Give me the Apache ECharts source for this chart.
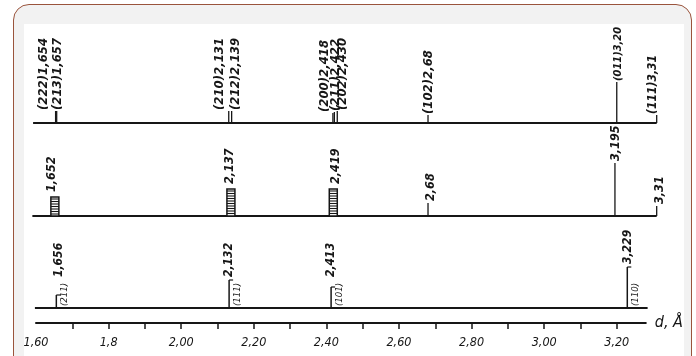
<!DOCTYPE html>
<html lang="ru">
<head>
<meta charset="UTF-8">
<title>d, Å</title>
<script src="https://cdn.jsdelivr.net/npm/echarts@6.0.0/dist/echarts.min.js"></script>
<style>
    html, body { margin: 0; padding: 0; background: #fff; overflow: hidden; }
    .frame {
        position: absolute; left: 13px; top: 4px;
        width: 677px; height: 420px;
        border: 1.5px solid #9a543c; border-radius: 16px;
        background: #f2f2f2;
    }
    .paper { position: absolute; left: 24px; top: 24px; width: 660px; height: 340px; background: #fff; }
    #chart { position: absolute; left: 0; top: 0; width: 696px; height: 356px; }
</style>
</head>
<body>
<div class="frame"></div>
<div class="paper"></div>
<div id="chart"></div>
<script>
// ряд 1: линии с индексами (hkl) d
var row1D = [1.654, 1.657, 2.131, 2.139, 2.418, 2.422, 2.430, 2.68, 3.20, 3.31];
var row1H = [12, 12, 12, 12, 10, 11, 12, 8, 41, 8];
var row1Text = ['(222)1,654', '(213)1,657', '(210)2,131', '(212)2,139', '(200)2,418',
                '(211)2,422', '(202)2,430', '(102)2,68', '(011)3,20', '(111)3,31'];

// ряд 2: сильные линии (заштрихованы) и слабые
var row2BarD = [1.652, 2.137, 2.419];
var row2BarH = [19, 27, 27];
var row2BarText = ['1,652', '2,137', '2,419'];
var row2LineD = [2.68, 3.195, 3.31];
var row2LineH = [13, 53, 10];
var row2LineText = ['2,68', '3,195', '3,31'];

// ряд 3
var row3D = [1.656, 2.132, 2.413, 3.229];
var row3H = [13, 28, 21, 41];
var row3Text = ['1,656', '2,132', '2,413', '3,229'];
var row3Hkl = ['(211)', '(111)', '(101)', '(110)'];

// концы базовых линий рядов
var rowStart = [1.592, 1.59, 1.597];
var rowEnd = [3.31, 3.31, 3.285];

// шкала d
var tickValues = [1.7, 1.8, 1.9, 2.0, 2.1, 2.2, 2.3, 2.4, 2.5, 2.6, 2.7, 2.8, 2.9, 3.0, 3.1, 3.2];
var labelValues = [1.6, 1.8, 2.0, 2.2, 2.4, 2.6, 2.8, 3.0, 3.2];
var labelText = ['1,60', '1,8', '2,00', '2,20', '2,40', '2,60', '2,80', '3,00', '3,20'];

// раскладка (не данные)
var rowBase = [200, 107, 15];
var dx1 = [-12, 1, -9, 4, -8, 1, 5, 1, 1, -4];
var size1 = [13, 13, 13, 13, 13, 13, 13, 13, 11, 12];
var dx2bar = [-3, -1, 2];
var dx2line = [3, 1, 3];
var dx3 = [3, 0, 0, 1];
var ink = '#161616';
var fam = '"DejaVu Sans Condensed", "DejaVu Sans", sans-serif';

function vtext(x, y, text, size, weight) {
    return {
        type: 'text', x: x, y: y, rotation: Math.PI / 2,
        style: { text: text, align: 'left', verticalAlign: 'middle',
                 font: 'italic ' + (weight || 'bold') + ' ' + size + 'px ' + fam, fill: ink }
    };
}
function seg(a, b, w) {
    return { type: 'line', shape: { x1: a[0], y1: a[1], x2: b[0], y2: b[1] },
             style: { stroke: ink, lineWidth: w || 1.3 } };
}

var chart = echarts.init(document.getElementById('chart'));

var series = [];
// базовые линии рядов
series.push({
    type: 'custom', clip: false, silent: true,
    data: rowStart.map(function (s, r) { return [s, rowEnd[r], r]; }),
    renderItem: function (params, api) {
        var r = api.value(2);
        return seg(api.coord([api.value(0), rowBase[r]]), api.coord([api.value(1), rowBase[r]]), 2.2);
    }
});

// ряд 1
series.push({
    type: 'custom', clip: false, silent: true,
    data: row1D.map(function (d, i) { return [d, row1H[i], i]; }),
    renderItem: function (params, api) {
        var i = api.value(2), d = api.value(0);
        var p0 = api.coord([d, rowBase[0]]);
        var p1 = api.coord([d, rowBase[0] + api.value(1)]);
        return { type: 'group', children: [
            seg(p0, p1, 1.3),
            vtext(p1[0] + dx1[i], p1[1] - 1, row1Text[i], size1[i])
        ] };
    }
});

// ряд 2, заштрихованные полосы
series.push({
    type: 'custom', clip: false, silent: true,
    data: row2BarD.map(function (d, i) { return [d, row2BarH[i], i]; }),
    renderItem: function (params, api) {
        var i = api.value(2), d = api.value(0);
        var p0 = api.coord([d, rowBase[1]]);
        var p1 = api.coord([d, rowBase[1] + api.value(1)]);
        var w = 8, x = p0[0] - w / 2;
        var kids = [{ type: 'rect', shape: { x: x, y: p1[1], width: w, height: p0[1] - p1[1] },
                      style: { fill: '#fff', stroke: ink, lineWidth: 1.5 } }];
        for (var y = p1[1] + 2; y < p0[1] - 1; y += 2.5) {
            kids.push(seg([x, y], [x + w, y], 1.1));
        }
        kids.push(vtext(p0[0] + dx2bar[i], p1[1] - 5, row2BarText[i], 12.5));
        return { type: 'group', children: kids };
    }
});

// ряд 2, тонкие линии
series.push({
    type: 'custom', clip: false, silent: true,
    data: row2LineD.map(function (d, i) { return [d, row2LineH[i], i]; }),
    renderItem: function (params, api) {
        var i = api.value(2), d = api.value(0);
        var p0 = api.coord([d, rowBase[1]]);
        var p1 = api.coord([d, rowBase[1] + api.value(1)]);
        return { type: 'group', children: [
            seg(p0, p1, 1.3),
            vtext(p1[0] + dx2line[i], p1[1] - 2, row2LineText[i], 12.5)
        ] };
    }
});

// ряд 3
series.push({
    type: 'custom', clip: false, silent: true,
    data: row3D.map(function (d, i) { return [d, row3H[i], i]; }),
    renderItem: function (params, api) {
        var i = api.value(2), d = api.value(0), h = api.value(1);
        var p0 = api.coord([d, rowBase[2]]);
        var p1 = api.coord([d, rowBase[2] + h]);
        var pl = api.coord([d, rowBase[2] + Math.max(h + 3, 31)]);
        return { type: 'group', children: [
            seg(p0, p1, 1.5),
            seg(p1, [p1[0] + 4, p1[1]], 1.2),
            vtext(pl[0] + dx3[i], pl[1], row3Text[i], 12),
            vtext(p0[0] + 8, p0[1] - 2, row3Hkl[i], 9.5, 'normal')
        ] };
    }
});

chart.setOption({
    animation: false,
    backgroundColor: 'transparent',
    grid: { left: 36, right: 50.2, top: 23, bottom: 33, outerBoundsMode: 'none' },
    xAxis: {
        type: 'value', min: 1.6, max: 3.28,
        name: 'd, Å', nameLocation: 'end', nameGap: 9,
        nameTextStyle: { color: ink, fontSize: 16, fontStyle: 'italic', fontFamily: fam,
                         verticalAlign: 'middle', padding: [0, 0, 6, 0] },
        axisLine: { lineStyle: { color: ink, width: 2 } },
        axisTick: { customValues: tickValues, length: 6, lineStyle: { color: ink, width: 1.5 } },
        axisLabel: {
            customValues: labelValues, margin: 13,
            color: ink, fontSize: 12.5, fontStyle: 'italic', fontFamily: fam,
            formatter: function (v) {
                for (var k = 0; k < labelValues.length; k++) {
                    if (Math.abs(labelValues[k] - v) < 1e-6) return labelText[k];
                }
                return '';
            }
        },
        splitLine: { show: false }
    },
    yAxis: { type: 'value', min: 0, max: 300, show: false },
    series: series
});
</script>
</body>
</html>
